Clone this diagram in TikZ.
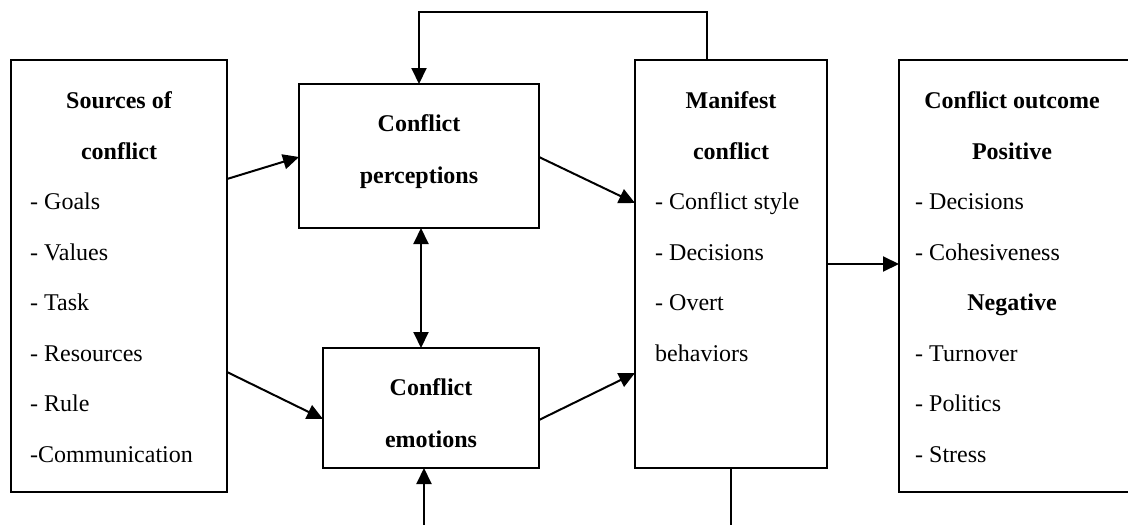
\documentclass[tikz,border=0pt]{standalone}
\usepackage{fontspec}
\setmainfont{Liberation Serif}
\usetikzlibrary{arrows.meta}
\begin{document}
\begin{tikzpicture}[x=1pt,y=-1pt,
  box/.style={draw,line width=2pt,inner sep=0pt,outer sep=0pt},
  tip/.style={Triangle[length=16pt,width=15pt]},
  conn/.style={line width=2pt,-{Triangle[length=16pt,width=15pt]}},
  hd/.style={anchor=base,inner sep=0pt,font=\fontsize{24}{28}\selectfont\bfseries},
  itm/.style={anchor=base west,inner sep=0pt,font=\fontsize{24}{28}\selectfont}]
\useasboundingbox (0,0) rectangle (1128,525);
\clip (0,0) rectangle (1128,525);
% boxes
\node[box,minimum width=216pt,minimum height=432pt] (src) at (119,276) {};
\node[box,minimum width=240pt,minimum height=144pt] (per) at (419,156) {};
\node[box,minimum width=216pt,minimum height=120pt] (emo) at (431,408) {};
\node[box,minimum width=192pt,minimum height=408pt] (man) at (731,264) {};
\node[box,minimum width=230pt,minimum height=432pt] (out) at (1014,276) {};
% sources text
\node[hd] (s1) at (119,108) {Sources of};
\node[hd] (s2) at (119,159) {conflict};
\node[itm] (s3) at (30,209.5) {- Goals};
\node[itm] (s4) at (30,260) {- Values};
\node[itm] (s5) at (30,310.5) {- Task};
\node[itm] (s6) at (30,361) {- Resources};
\node[itm] (s7) at (30,411.5) {- Rule};
\node[itm] (s8) at (30,462) {-Communication};
% perceptions
\node[hd] (p1) at (419,131) {Conflict};
\node[hd] (p2) at (419,183) {perceptions};
% emotions
\node[hd] (e1) at (431,395) {Conflict};
\node[hd] (e2) at (431,447) {emotions};
% manifest
\node[hd] (m1) at (731,108) {Manifest};
\node[hd] (m2) at (731,159) {conflict};
\node[itm] (m3) at (655,209.5) {- Conflict style};
\node[itm] (m4) at (655,260) {- Decisions};
\node[itm] (m5) at (655,310.5) {- Overt};
\node[itm] (m6) at (655,361) {behaviors};
% outcome
\node[hd] (o1) at (1012,108) {Conflict outcome};
\node[hd] (o2) at (1012,159) {Positive};
\node[itm] (o3) at (915,209.5) {- Decisions};
\node[itm] (o4) at (915,260) {- Cohesiveness};
\node[hd] (o5) at (1012,310.5) {Negative};
\node[itm] (o6) at (915,361) {- Turnover};
\node[itm] (o7) at (915,411.5) {- Politics};
\node[itm] (o8) at (915,462) {- Stress};
% connectors
\draw[conn] (src.east |- 0,179) -- (per.west |- 0,157);
\draw[conn] (src.east |- 0,372) -- (emo.west |- 0,419);
\draw[conn] (per.east |- 0,157) -- (man.west |- 0,203);
\draw[conn] (emo.east |- 0,420) -- (man.west |- 0,373);
\draw[conn] (man.east |- 0,264) -- (out.west |- 0,264);
\draw[conn] (man.north -| 707,0) -- (707,12) -| (per.north);
\draw[line width=2pt,{Triangle[length=16pt,width=15pt]}-{Triangle[length=16pt,width=15pt]}] (per.south -| 421,0) -- (emo.north -| 421,0);
\draw[conn] (man.south -| 731,0) -- (731,545) -| (emo.south -| 424,0);
\end{tikzpicture}
\end{document}
